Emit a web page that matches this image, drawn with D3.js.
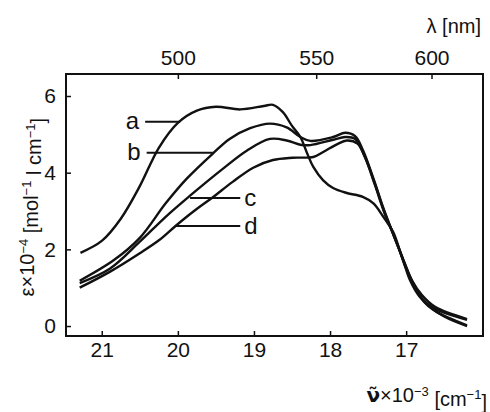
<!DOCTYPE html>
<html>
<head>
<meta charset="utf-8">
<script src="https://cdn.jsdelivr.net/npm/d3@7"></script>
<style>
  body { margin: 0; background: #fff; }
  text { font-family: "Liberation Sans", Arial, sans-serif; fill: #111; }
</style>
</head>
<body>
<svg id="viz"></svg>
<script>
// Absorption spectra a-d: [wavenumber x10^-3 cm^-1, epsilon x10^-4]
const curveA = [[21.28,1.91],[21.0,2.22],[20.75,2.8],[20.5,3.65],[20.25,4.65],[20.0,5.3],[19.75,5.62],[19.5,5.72],
  [19.18,5.65],[18.87,5.74],[18.75,5.77],[18.62,5.58],[18.5,5.22],[18.39,4.93],[18.30,4.5],[18.22,4.15],[18.09,3.8],
  [17.96,3.6],[17.78,3.47],[17.57,3.37],[17.43,3.2],[17.30,2.85],[17.17,2.45],[17.0,1.5],[16.75,0.6],[16.5,0.25],[16.2,0.0]];
const curveB = [[21.29,1.18],[20.84,1.72],[20.5,2.3],[20.16,3.2],[19.88,3.85],[19.54,4.5],[19.32,4.88],[19.05,5.16],
  [18.79,5.28],[18.57,5.18],[18.39,4.93],[18.26,4.83],[17.96,4.93],[17.80,5.04],[17.67,4.95],[17.57,4.6],[17.43,3.85],
  [17.30,3.08],[17.18,2.45],[17.05,1.78],[16.95,1.2],[16.82,0.76],[16.64,0.47],[16.2,0.16]];
const curveC = [[21.29,1.12],[20.89,1.5],[20.5,2.2],[20.16,2.85],[19.84,3.4],[19.41,4.1],[19.09,4.58],[18.79,4.88],
  [18.57,4.84],[18.39,4.73],[18.26,4.72],[17.96,4.86],[17.80,4.93],[17.67,4.88],[17.54,4.4],[17.41,3.7],[17.28,2.95],
  [17.16,2.35],[17.03,1.7],[16.92,1.18],[16.79,0.8],[16.62,0.5],[16.2,0.18]];
const curveD = [[21.29,1.0],[20.89,1.42],[20.5,1.9],[20.24,2.25],[20.03,2.61],[19.80,2.98],[19.54,3.36],[19.28,3.76],
  [19.01,4.13],[18.75,4.33],[18.49,4.39],[18.22,4.41],[18.09,4.54],[17.91,4.74],[17.78,4.84],[17.64,4.76],[17.54,4.4],
  [17.41,3.68],[17.28,2.92],[17.16,2.35],[17.03,1.68],[16.92,1.15],[16.79,0.7],[16.62,0.4],[16.2,0.02]];

const series = [curveA, curveB, curveC, curveD];
const seriesNames = ["a", "b", "c", "d"];
// leader lines: [from wavenumber, to wavenumber, epsilon], label sits at the free end
const leaders = [[20.43, 19.97, 5.33], [20.41, 19.54, 4.52], [19.84, 19.18, 3.34], [20.03, 19.18, 2.61]];
const labelSide = ["left", "left", "right", "right"];

const waveTicks = [21, 20, 19, 18, 17];
const lambdaTicks = [500, 550, 600];
const epsTicks = [0, 2, 4, 6];

const width = 490, height = 412;
const margin = { left: 66, top: 74, right: 7, bottom: 76 };
const w = width - margin.left - margin.right;
const h = height - margin.top - margin.bottom;

const svg = d3.select("#viz").attr("width", width).attr("height", height);
const g = svg.append("g").attr("transform", `translate(${margin.left},${margin.top})`);

const x = d3.scaleLinear().domain([21.47, 15.99]).range([0, w]);
const y = d3.scaleLinear().domain([-0.26, 6.574]).range([h, 0]);

// axes with inward ticks
const xAxis = g.append("g").attr("transform", `translate(0,${h})`)
  .call(d3.axisBottom(x).tickValues(waveTicks).tickFormat(d3.format("d"))
    .tickSizeInner(-5).tickSizeOuter(0).tickPadding(6));
const topAxis = g.append("g")
  .call(d3.axisTop(x).tickValues(lambdaTicks.map(l => 1e4 / l)).tickFormat((d, i) => lambdaTicks[i])
    .tickSizeInner(-5).tickSizeOuter(0).tickPadding(9));
const yAxis = g.append("g")
  .call(d3.axisLeft(y).tickValues(epsTicks).tickFormat(d3.format("d"))
    .tickSizeInner(-5).tickSizeOuter(0).tickPadding(10));

[xAxis, topAxis, yAxis].forEach(a => {
  a.select(".domain").remove();
  a.selectAll("line").attr("stroke", "#111").attr("stroke-width", 1.5);
  a.selectAll("text").style("font-size", "21px").style("font-family", "Liberation Sans, Arial, sans-serif").attr("fill", "#111");
});

// frame
g.append("rect").attr("width", w).attr("height", h)
  .attr("fill", "none").attr("stroke", "#111").attr("stroke-width", 2);

// curves
const line = d3.line().x(d => x(d[0])).y(d => y(d[1])).curve(d3.curveCatmullRom.alpha(0.5));
g.selectAll(".spec").data(series).enter().append("path")
  .attr("class", "spec")
  .attr("d", line)
  .attr("fill", "none").attr("stroke", "#111").attr("stroke-width", 2.4)
  .attr("stroke-linejoin", "round");

// leader lines and labels
leaders.forEach((l, i) => {
  g.append("line")
    .attr("x1", x(l[0])).attr("x2", x(l[1]))
    .attr("y1", y(l[2])).attr("y2", y(l[2]))
    .attr("stroke", "#111").attr("stroke-width", 2);
  const left = labelSide[i] === "left";
  g.append("text")
    .attr("x", left ? x(l[0]) - 6 : x(l[1]) + 4)
    .attr("y", y(l[2]))
    .attr("dy", "0.32em")
    .attr("text-anchor", left ? "end" : "start")
    .style("font-size", "24px")
    .text(seriesNames[i]);
});

// axis titles
const yt = svg.append("text").style("font-size", "20px");
yt.append("tspan").text("ε×10");
yt.append("tspan").attr("dy", "-0.5em").style("font-size", "13px").text("−4");
yt.append("tspan").attr("dy", "0.5em").text(" [mol");
yt.append("tspan").attr("dy", "-0.5em").style("font-size", "13px").text("−1");
yt.append("tspan").attr("dy", "0.5em").text(" l cm");
yt.append("tspan").attr("dy", "-0.5em").style("font-size", "13px").text("−1");
yt.append("tspan").attr("dy", "0.5em").text("]");
// centre the rotated title on the middle of the y range
const ytLen = yt.node().getBBox().width;
yt.attr("transform", `translate(34,${margin.top + y(3.1) + ytLen / 2}) rotate(-90)`);

const xt = svg.append("text")
  .attr("x", 487).attr("y", 402)
  .attr("text-anchor", "end")
  .style("font-size", "20px");
xt.append("tspan").style("font-family", "DejaVu Sans").style("font-weight", "bold").text("ν̃");
xt.append("tspan").text("×10");
xt.append("tspan").attr("dy", "-0.5em").style("font-size", "13px").text("−3");
xt.append("tspan").attr("dy", "0.5em").text(" [cm");
xt.append("tspan").attr("dy", "-0.5em").style("font-size", "13px").text("−1");
xt.append("tspan").attr("dy", "0.5em").text("]");

svg.append("text")
  .attr("x", 481).attr("y", 33)
  .attr("text-anchor", "end")
  .style("font-size", "20px")
  .text("λ [nm]");
</script>
</body>
</html>
